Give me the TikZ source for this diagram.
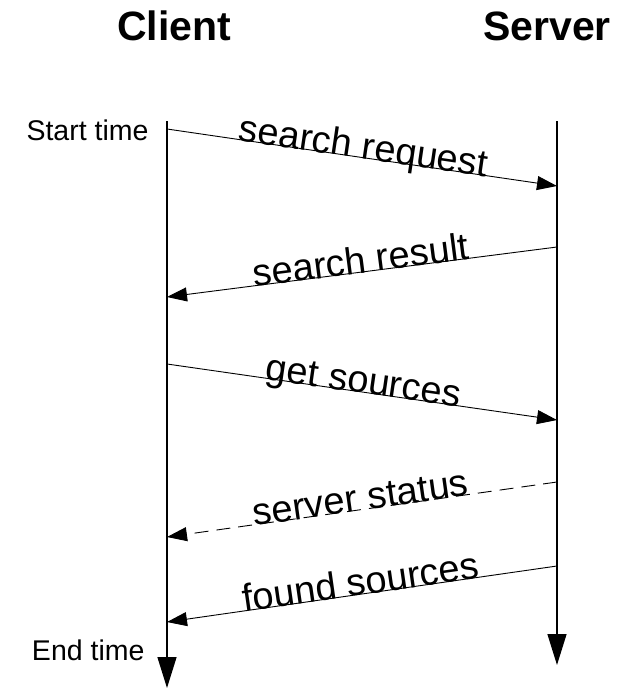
\documentclass[tikz,border=0pt]{standalone}
\usepackage{fontspec}
\setmainfont{Liberation Sans}
\usetikzlibrary{arrows.meta, positioning}
\tikzset{
  x={(1pt,0)}, y={(0,-1pt)},
  lifeline/.style={line width=1.4pt, draw=black,
    -{Triangle[length=31pt, width=19pt]}},
  msg/.style={line width=0.9pt, draw=black,
    -{Triangle[length=20pt, width=14pt]}},
  msgdash/.style={msg, dash pattern=on 14pt off 8pt},
  msglabel/.style={sloped, anchor=base, yshift=-1pt,
    font=\fontsize{38}{42}\selectfont, inner sep=0pt},
  title/.style={font=\fontsize{41}{46}\selectfont\bfseries},
  timelabel/.style={font=\fontsize{28.5}{33}\selectfont, anchor=east}
}
\begin{document}
\begin{tikzpicture}

\useasboundingbox[fill=white] (0,0) rectangle (630,688);

% ── Actors ──────────────────────────────────────────────────
\node[title] (client) at (174,26) {Client};
\node[title] (server) at (547,26) {Server};

% ── Lifelines ───────────────────────────────────────────────
\coordinate (ctop) at (167,121);
\coordinate (cbot) at (167,688);
\coordinate (stop) at (557,121);
\coordinate (sbot) at (557,665);

\draw[lifeline] (ctop) -- (cbot);
\draw[lifeline] (stop) -- (sbot);

\node[timelabel] (start) at (152,130) {Start time};
\node[timelabel] (end)   at (148,650) {End time};

% ── Message end points ──────────────────────────────────────
\coordinate (c1) at (167,129);  \coordinate (s1) at (557,186);
\coordinate (s2) at (557,247);  \coordinate (c2) at (167,297);
\coordinate (c3) at (167,364);  \coordinate (s3) at (557,420);
\coordinate (s4) at (557,482);  \coordinate (c4) at (167,537);
\coordinate (s5) at (557,566);  \coordinate (c5) at (167,622);

% ── Messages ────────────────────────────────────────────────
\draw[msg]     (c1) -- node[msglabel] {search request} (s1);
\draw[msg]     (s2) -- node[msglabel] {search result}  (c2);
\draw[msg]     (c3) -- node[msglabel] {get sources}    (s3);
\draw[msgdash] (s4) -- node[msglabel] {server status}  (c4);
\draw[msg]     (s5) -- node[msglabel] {found sources}  (c5);

\end{tikzpicture}
\end{document}
